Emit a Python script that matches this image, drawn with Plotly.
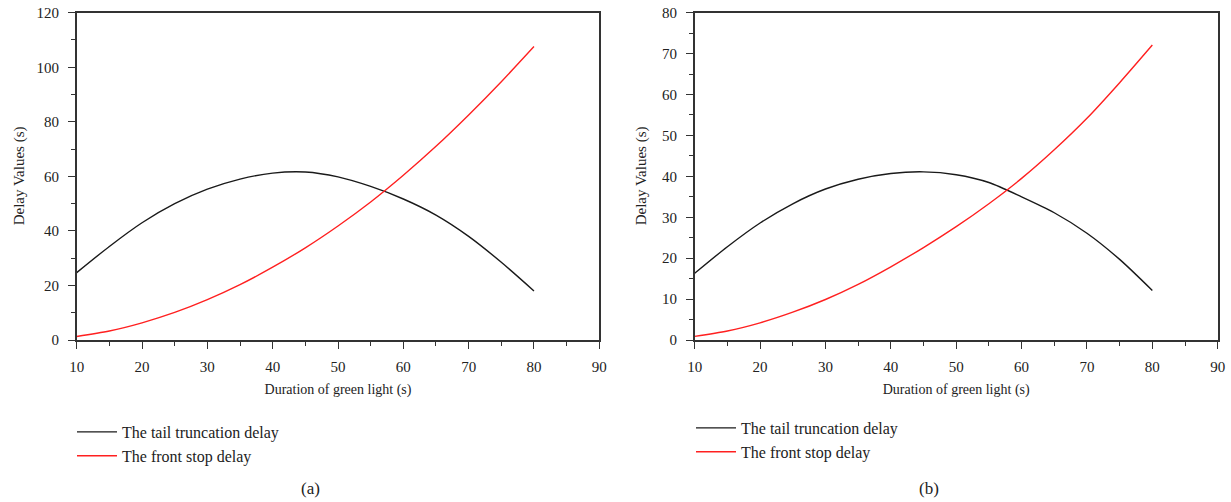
import plotly.graph_objects as go

# ---- data ----
green_duration = [10, 15, 20, 25, 30, 35, 40, 45, 50, 55, 60, 65, 70, 75, 80]

tail_delay_a = [24.7, 34.3, 43.0, 50.0, 55.3, 59.0, 61.2, 61.6, 59.8, 56.3, 51.7, 45.8, 38.0, 28.5, 18.0]
front_delay_a = [1.3, 3.3, 6.3, 10.1, 14.8, 20.3, 26.7, 33.8, 41.8, 50.6, 60.4, 71.0, 82.5, 94.7, 107.6]

tail_delay_b = [16.3, 22.8, 28.6, 33.3, 36.9, 39.3, 40.7, 41.1, 40.4, 38.5, 35.0, 31.1, 26.1, 19.7, 12.1]
front_delay_b = [0.9, 2.2, 4.2, 6.8, 9.9, 13.6, 17.9, 22.6, 27.7, 33.3, 39.5, 46.5, 54.2, 62.9, 72.1]

series_names = ["The tail truncation delay", "The front stop delay"]
x_title = "Duration of green light (s)"
y_title = "Delay Values (s)"
panel_labels = ["(a)", "(b)"]

FONT = "Liberation Serif"
AX = "#333333"
TXT = "#222222"
BLACK = "#1a1a1a"
RED = "#ff2020"

W, H = 1231, 502

fig = go.Figure()

for xs, ys, col, nm, xa, ya, lg in [
    (green_duration, tail_delay_a, BLACK, series_names[0], "x", "y", "legend"),
    (green_duration, front_delay_a, RED, series_names[1], "x", "y", "legend"),
    (green_duration, tail_delay_b, BLACK, series_names[0], "x2", "y2", "legend2"),
    (green_duration, front_delay_b, RED, series_names[1], "x2", "y2", "legend2"),
]:
    fig.add_trace(go.Scatter(x=xs, y=ys, mode="lines", name=nm,
                             line=dict(color=col, width=1.4, shape="spline", smoothing=0.8),
                             xaxis=xa, yaxis=ya, legend=lg))

def px_x(p):
    """window pixel -> paper fraction"""
    return p / W

def px_y(p):
    return 1 - p / H

xdom1 = [px_x(76.7), px_x(599.3)]
xdom2 = [px_x(694.7), px_x(1217.7)]
ydom = [px_y(340), px_y(12.7)]

common_x = dict(range=[10, 90], tick0=10, dtick=10, ticks="outside", ticklen=7, tickwidth=1.2,
                tickcolor=AX, showline=True, linecolor=AX, linewidth=1.5, mirror=True,
                showgrid=False, zeroline=False, automargin=False, ticklabelstandoff=5,
                ticklabeloverflow="allow",
                minor=dict(ticks="outside", ticklen=4, tickwidth=1.2, tickcolor=AX, dtick=5, tick0=10, showgrid=False),
                tickfont=dict(family=FONT, size=15, color=TXT),
                title=dict(text=x_title, font=dict(family=FONT, size=14, color=TXT), standoff=10))
common_y = dict(ticks="outside", ticklen=7, tickwidth=1.2, tickcolor=AX, showline=True, linecolor=AX,
                linewidth=1.5, mirror=True, showgrid=False, zeroline=False, automargin=False,
                ticklabelstandoff=6, ticklabeloverflow="allow",
                tickfont=dict(family=FONT, size=15, color=TXT))

legend_common = dict(xanchor="left", yanchor="top", xref="container", yref="container",
                     font=dict(family=FONT, size=16, color=TXT), bgcolor="rgba(0,0,0,0)",
                     itemwidth=40, tracegroupgap=0)

ycenter = px_y((340 + 12.7) / 2)
annotations = [
    dict(text=y_title, x=px_x(19), y=ycenter, textangle=-90, xanchor="center", yanchor="middle"),
    dict(text=y_title, x=px_x(641), y=ycenter, textangle=-90, xanchor="center", yanchor="middle"),
    dict(text=panel_labels[0], x=px_x(310), y=px_y(488), xanchor="center", yanchor="middle",
         font=dict(family=FONT, size=17, color=TXT)),
    dict(text=panel_labels[1], x=px_x(929), y=px_y(488), xanchor="center", yanchor="middle",
         font=dict(family=FONT, size=17, color=TXT)),
]
for a in annotations:
    a.update(xref="paper", yref="paper", showarrow=False)
    a.setdefault("font", dict(family=FONT, size=15, color=TXT))

fig.update_layout(
    width=W, height=H,
    margin=dict(l=0, r=0, t=0, b=0, autoexpand=False),
    paper_bgcolor="white", plot_bgcolor="white",
    font=dict(family=FONT, color=TXT),
    xaxis=dict(domain=xdom1, anchor="y", **common_x),
    yaxis=dict(domain=ydom, anchor="x", range=[0, 120], dtick=20,
               minor=dict(ticks="outside", ticklen=4, tickwidth=1.2, tickcolor=AX, dtick=10, showgrid=False),
               **common_y),
    xaxis2=dict(domain=xdom2, anchor="y2", **common_x),
    yaxis2=dict(domain=ydom, anchor="x2", range=[0, 80], dtick=10,
                minor=dict(ticks="outside", ticklen=4, tickwidth=1.2, tickcolor=AX, dtick=5, showgrid=False),
                **common_y),
    legend=dict(x=px_x(72), y=px_y(415), **legend_common),
    legend2=dict(x=px_x(691), y=px_y(411), **legend_common),
    annotations=annotations,
)

# remove the browser's default 8 px page margin so the figure fills the window exactly,
# and hide the interactive mode bar
fig.write_html("out.html", config={"displayModeBar": False},
               post_script="document.body.style.margin='0';")
